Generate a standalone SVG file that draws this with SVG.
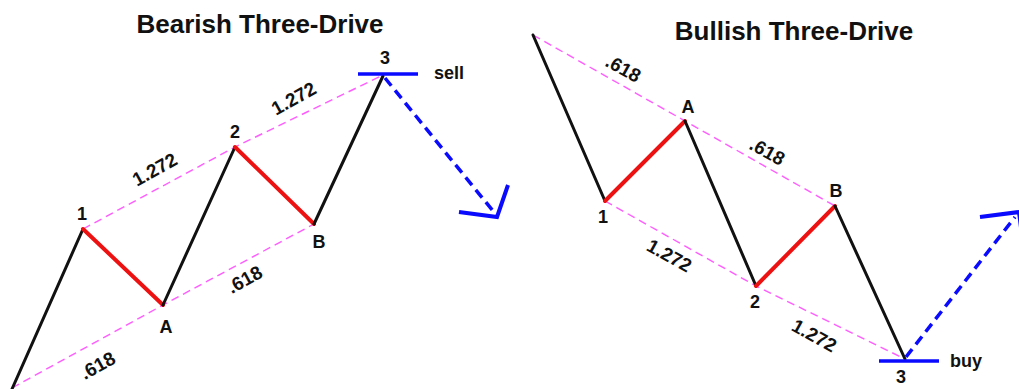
<svg xmlns="http://www.w3.org/2000/svg" width="1019" height="389" viewBox="0 0 1019 389">
<style>
.title{font-family:"Liberation Sans",Arial,sans-serif;font-weight:bold;font-size:26px;fill:#111;text-anchor:middle}
.lbl{font-family:"Liberation Sans",Arial,sans-serif;font-weight:bold;font-size:18px;fill:#111;text-anchor:middle}
.act{font-family:"Liberation Sans",Arial,sans-serif;font-weight:bold;font-size:18px;fill:#111}
.ratio{font-family:"Liberation Sans",Arial,sans-serif;font-weight:bold;font-size:19px;fill:#111;text-anchor:middle}
.guide{stroke:#ff5cff;stroke-width:1.4;stroke-dasharray:8 5;fill:none}
.leg{stroke:#111;stroke-width:3;fill:none;stroke-linecap:round;stroke-linejoin:round}
.corr{stroke:#ee1111;stroke-width:4;fill:none;stroke-linecap:round}
.bar{stroke:#0a0aff;stroke-width:3.5;fill:none}
.proj{stroke:#0a0aff;stroke-width:3.5;stroke-dasharray:10 6;fill:none}
.head{stroke:#0a0aff;stroke-width:4;fill:none;stroke-linejoin:miter;stroke-linecap:butt}
</style>
<rect width="1019" height="389" fill="#fff"/>
<text class="title" x="260" y="33">Bearish Three-Drive</text>
<text class="title" x="794" y="40">Bullish Three-Drive</text>
<g id="connectors">
<polyline class="guide" points="12,388 163,305 314,224"/>
<polyline class="guide" points="83,229 235,147 383,75"/>
<polyline class="guide" points="533,35 685,121 835,206"/>
<polyline class="guide" points="605,201 756,286 905,359"/>
<line class="leg" x1="12" y1="389" x2="83" y2="229"/>
<line class="corr" x1="83" y1="229" x2="163" y2="305"/>
<line class="leg" x1="163" y1="305" x2="235" y2="147"/>
<line class="corr" x1="235" y1="147" x2="314" y2="224"/>
<line class="leg" x1="314" y1="224" x2="383" y2="76"/>
<line class="leg" x1="533" y1="35" x2="605" y2="201"/>
<line class="corr" x1="605" y1="201" x2="685" y2="121"/>
<line class="leg" x1="685" y1="121" x2="756" y2="286"/>
<line class="corr" x1="756" y1="286" x2="835" y2="206"/>
<line class="leg" x1="835" y1="206" x2="905" y2="359"/>
<line class="proj" x1="385" y1="78" x2="493" y2="211"/>
<polyline class="head" points="459,212 497,217 508,185"/>
<line class="proj" x1="906" y1="357" x2="1015" y2="217"/>
<polyline class="head" points="980,217 1019,212 1024,251"/>
</g>
<g id="bear-3"><line class="bar" x1="358" y1="74" x2="418" y2="74"/><text class="lbl" x="385" y="64">3</text><text class="act" x="434" y="79">sell</text></g>
<g id="bear-1"><text class="lbl" x="82" y="220">1</text></g>
<g id="bear-2"><text class="lbl" x="235" y="138">2</text></g>
<g id="bear-A"><text class="lbl" x="166" y="333">A</text></g>
<g id="bear-B"><text class="lbl" x="319" y="248">B</text></g>
<g id="bull-3"><line class="bar" x1="879" y1="361" x2="939" y2="361"/><text class="lbl" x="901" y="383">3</text><text class="act" x="950" y="367">buy</text></g>
<g id="bull-1"><text class="lbl" x="603" y="223">1</text></g>
<g id="bull-2"><text class="lbl" x="755" y="308">2</text></g>
<g id="bull-A"><text class="lbl" x="688" y="113">A</text></g>
<g id="bull-B"><text class="lbl" x="836" y="197">B</text></g>
<g id="ratios">
<text class="ratio" transform="translate(155,170) rotate(-29)" y="6">1.272</text>
<text class="ratio" transform="translate(294,99) rotate(-29)" y="6">1.272</text>
<text class="ratio" transform="translate(245,280) rotate(-29)" y="6">.618</text>
<text class="ratio" transform="translate(98,366) rotate(-29)" y="6">.618</text>
<text class="ratio" transform="translate(623,69) rotate(29)" y="6">.618</text>
<text class="ratio" transform="translate(767,152) rotate(29)" y="6">.618</text>
<text class="ratio" transform="translate(669,256) rotate(29)" y="6">1.272</text>
<text class="ratio" transform="translate(814,336) rotate(29)" y="6">1.272</text>
</g>
</svg>
